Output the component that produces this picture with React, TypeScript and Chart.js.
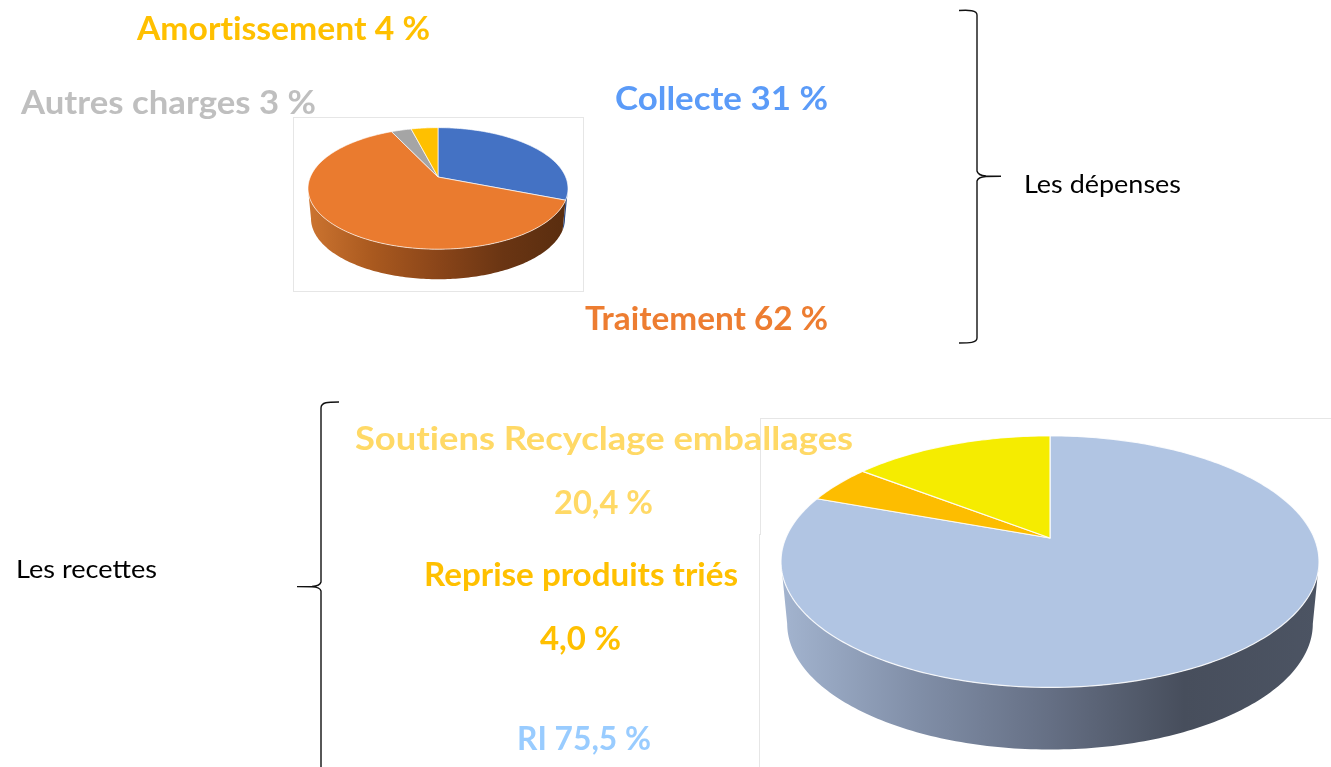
import React, { useEffect, useRef } from "react";
import { Chart, registerables } from "chart.js";

Chart.register(...registerables);

// ---- data ----
const expenseCategories = ["Collecte", "Traitement", "Autres charges", "Amortissement"];
const expenseValues = [31, 62, 3, 4];
const expenseColors = ["#4472c4", "#ea7b2f", "#a5a5a5", "#ffc000"];
const expenseWalls = [
  ["#2f5597", "#2a4a85"],
  ["#cc7430", "#a9591f", "#8a4519", "#6a3513", "#592d0f"],
  ["#666666", "#666666"],
  ["#997300", "#997300"],
];

// slice sizes as drawn in the picture (the printed labels differ)
const incomeCategories = ["RI", "Reprise produits triés", "Soutiens Recyclage emballages"];
const incomeValues = [80.6, 4.9, 14.5];
const incomeColors = ["#b1c5e3", "#fdbd00", "#f5ec00"];
const incomeWalls = [
  ["#a3b4cf", "#818fa8", "#656f84", "#474e5c", "#4c5463"],
  ["#997300", "#997300"],
  ["#938e00", "#938e00"],
];

// ---- 3D look: projection of the library's arcs ----
const K = -0.188;
const TILT = 0.451;
const DEPTH = 0.231;
const NARROW = 0.977;
const DEG = Math.PI / 180;
const WIDEST = Math.asin(-K);

const pie3d = {
  id: "pie3d",
  beforeDatasetsDraw(chart: any, _args: any, opts: any) {
    const ctx = chart.ctx as CanvasRenderingContext2D;
    const arcs = chart.getDatasetMeta(0).data as any[];
    const walls: string[][] = opts.walls;
    const rimWidth: number = opts.rimWidth;
    const R = arcs[0].outerRadius;
    const cx = arcs[0].x;
    const cy = arcs[0].y;
    const A = R * Math.sqrt(1 - K * K);
    const B = R * TILT;
    const top = (a: number) => {
      const d = 1 + K * Math.sin(a);
      return [cx + (A * Math.cos(a)) / d, cy + (B * Math.sin(a)) / d];
    };
    const low = (a: number) => {
      const d = 1 + K * Math.sin(a);
      return [cx + (NARROW * A * Math.cos(a)) / d, cy + (B * Math.sin(a)) / d + DEPTH * R];
    };
    const span = (s: number, e: number) => {
      const pts: number[] = [];
      const n = Math.max(1, Math.ceil((e - s) / DEG));
      for (let i = 0; i <= n; i++) pts.push(s + ((e - s) * i) / n);
      return pts;
    };
    ctx.save();
    // side wall, between the two widest points of the rim
    arcs.forEach((arc, i) => {
      const s = Math.max(arc.startAngle, WIDEST);
      const e = Math.min(arc.endAngle, Math.PI - WIDEST);
      if (e <= s) return;
      const g = ctx.createLinearGradient(cx - R, 0, cx + R, 0);
      walls[i].forEach((c, j) => g.addColorStop(j / (walls[i].length - 1), c));
      ctx.fillStyle = g;
      ctx.beginPath();
      span(s, e).forEach((a, j) => {
        const p = top(a);
        j ? ctx.lineTo(p[0], p[1]) : ctx.moveTo(p[0], p[1]);
      });
      span(s, e)
        .reverse()
        .forEach((a) => {
          const p = low(a);
          ctx.lineTo(p[0], p[1]);
        });
      ctx.closePath();
      ctx.fill();
    });
    // top face
    arcs.forEach((arc) => {
      ctx.beginPath();
      ctx.moveTo(cx, cy);
      span(arc.startAngle, arc.endAngle).forEach((a) => {
        const p = top(a);
        ctx.lineTo(p[0], p[1]);
      });
      ctx.closePath();
      ctx.fillStyle = arc.options.backgroundColor;
      ctx.fill();
      ctx.strokeStyle = "rgba(255,255,255,0.85)";
      ctx.lineWidth = rimWidth;
      ctx.lineJoin = "round";
      ctx.stroke();
    });
    ctx.restore();
    return false;
  },
};

function Pie3D(props: {
  labels: string[];
  values: number[];
  colors: string[];
  walls: string[][];
  left: number;
  top: number;
  size: number;
  rimWidth: number;
}) {
  const ref = useRef<HTMLCanvasElement>(null);
  useEffect(() => {
    const chart = new Chart(ref.current as HTMLCanvasElement, {
      type: "pie",
      data: {
        labels: props.labels,
        datasets: [{ data: props.values, backgroundColor: props.colors, borderWidth: 0 }],
      },
      options: {
        responsive: false,
        animation: false,
        layout: { padding: 4 },
        plugins: {
          legend: { display: false },
          tooltip: { enabled: false },
          pie3d: { walls: props.walls, rimWidth: props.rimWidth },
        },
      } as any,
      plugins: [pie3d as any],
    });
    return () => chart.destroy();
  }, []);
  return (
    <canvas
      ref={ref}
      width={props.size}
      height={props.size}
      style={{ position: "absolute", left: props.left, top: props.top, width: props.size, height: props.size }}
    />
  );
}

const HEAD = "Lato, 'Open Sans', sans-serif";

const labels: [string, number, number, number, string][] = [
  ["Amortissement 4 %", 137, 40, 293, "#ffc000"],
  ["Autres charges 3 %", 21, 114, 295, "#bfbfbf"],
  ["Collecte 31 %", 615, 110, 213, "#5b9bf8"],
  ["Traitement 62 %", 585, 330, 243, "#ed7d31"],
  ["Soutiens Recyclage emballages", 355, 450, 498, "#ffd966"],
  ["20,4 %", 554, 514, 99, "#ffd966"],
  ["Reprise produits triés", 424, 586, 314, "#ffc000"],
  ["4,0 %", 540, 650, 81, "#ffc000"],
  ["RI 75,5 %", 517, 750, 134, "#99ccff"],
];

export default function App() {
  return (
    <div
      style={{
        position: "absolute",
        left: 0,
        top: 0,
        width: 1331,
        height: 767,
        overflow: "hidden",
        background: "#fff",
      }}
    >
      <div style={{ position: "absolute", left: 293, top: 117, width: 289, height: 173, border: "1px solid #e6e6e6" }} />
      <div style={{ position: "absolute", left: 760, top: 418, width: 600, height: 116, borderTop: "1px solid #e6e6e6", borderLeft: "1px solid #e6e6e6" }} />
      <div style={{ position: "absolute", left: 759, top: 534, width: 1, height: 240, background: "#e6e6e6" }} />
      <Pie3D
        labels={expenseCategories}
        values={expenseValues}
        colors={expenseColors}
        walls={expenseWalls}
        left={304}
        top={43}
        size={268}
        rimWidth={0.8}
      />
      <Pie3D
        labels={incomeCategories}
        values={incomeValues}
        colors={incomeColors}
        walls={incomeWalls}
        left={777}
        top={265}
        size={546}
        rimWidth={1.2}
      />
      <svg width={1331} height={767} style={{ position: "absolute", left: 0, top: 0 }}>
        <g fill="none" stroke="#111" strokeWidth={1.4}>
          <path d="M959 10.5 C969 10 977 10 977 15 L977 171 Q978 175.5 986 176 L1001 176.2 L986 176.5 Q978 177 977 181 L977 338 C977 343 969 343 959 343" />
          <path d="M339 402 C328 402 321 402 321 408 L321 582 Q320 586 312 586.4 L297 586.6 L312 586.9 Q320 587 321 591 L321 770" />
        </g>
        {labels.map(([t, x, y, w, c]) => (
          <text
            key={t}
            x={x}
            y={y}
            textLength={w}
            lengthAdjust="spacingAndGlyphs"
            fill={c}
            style={{ fontFamily: HEAD, fontWeight: 700, fontSize: 32, fontVariantLigatures: "none" }}
          >
            {t}
          </text>
        ))}
        <text x={1024} y={193} textLength={157} lengthAdjust="spacingAndGlyphs" fill="#000" style={{ fontFamily: HEAD, fontSize: 25 }}>
          Les dépenses
        </text>
        <text x={16} y={578} textLength={141} lengthAdjust="spacingAndGlyphs" fill="#000" style={{ fontFamily: HEAD, fontSize: 25 }}>
          Les recettes
        </text>
      </svg>
    </div>
  );
}
